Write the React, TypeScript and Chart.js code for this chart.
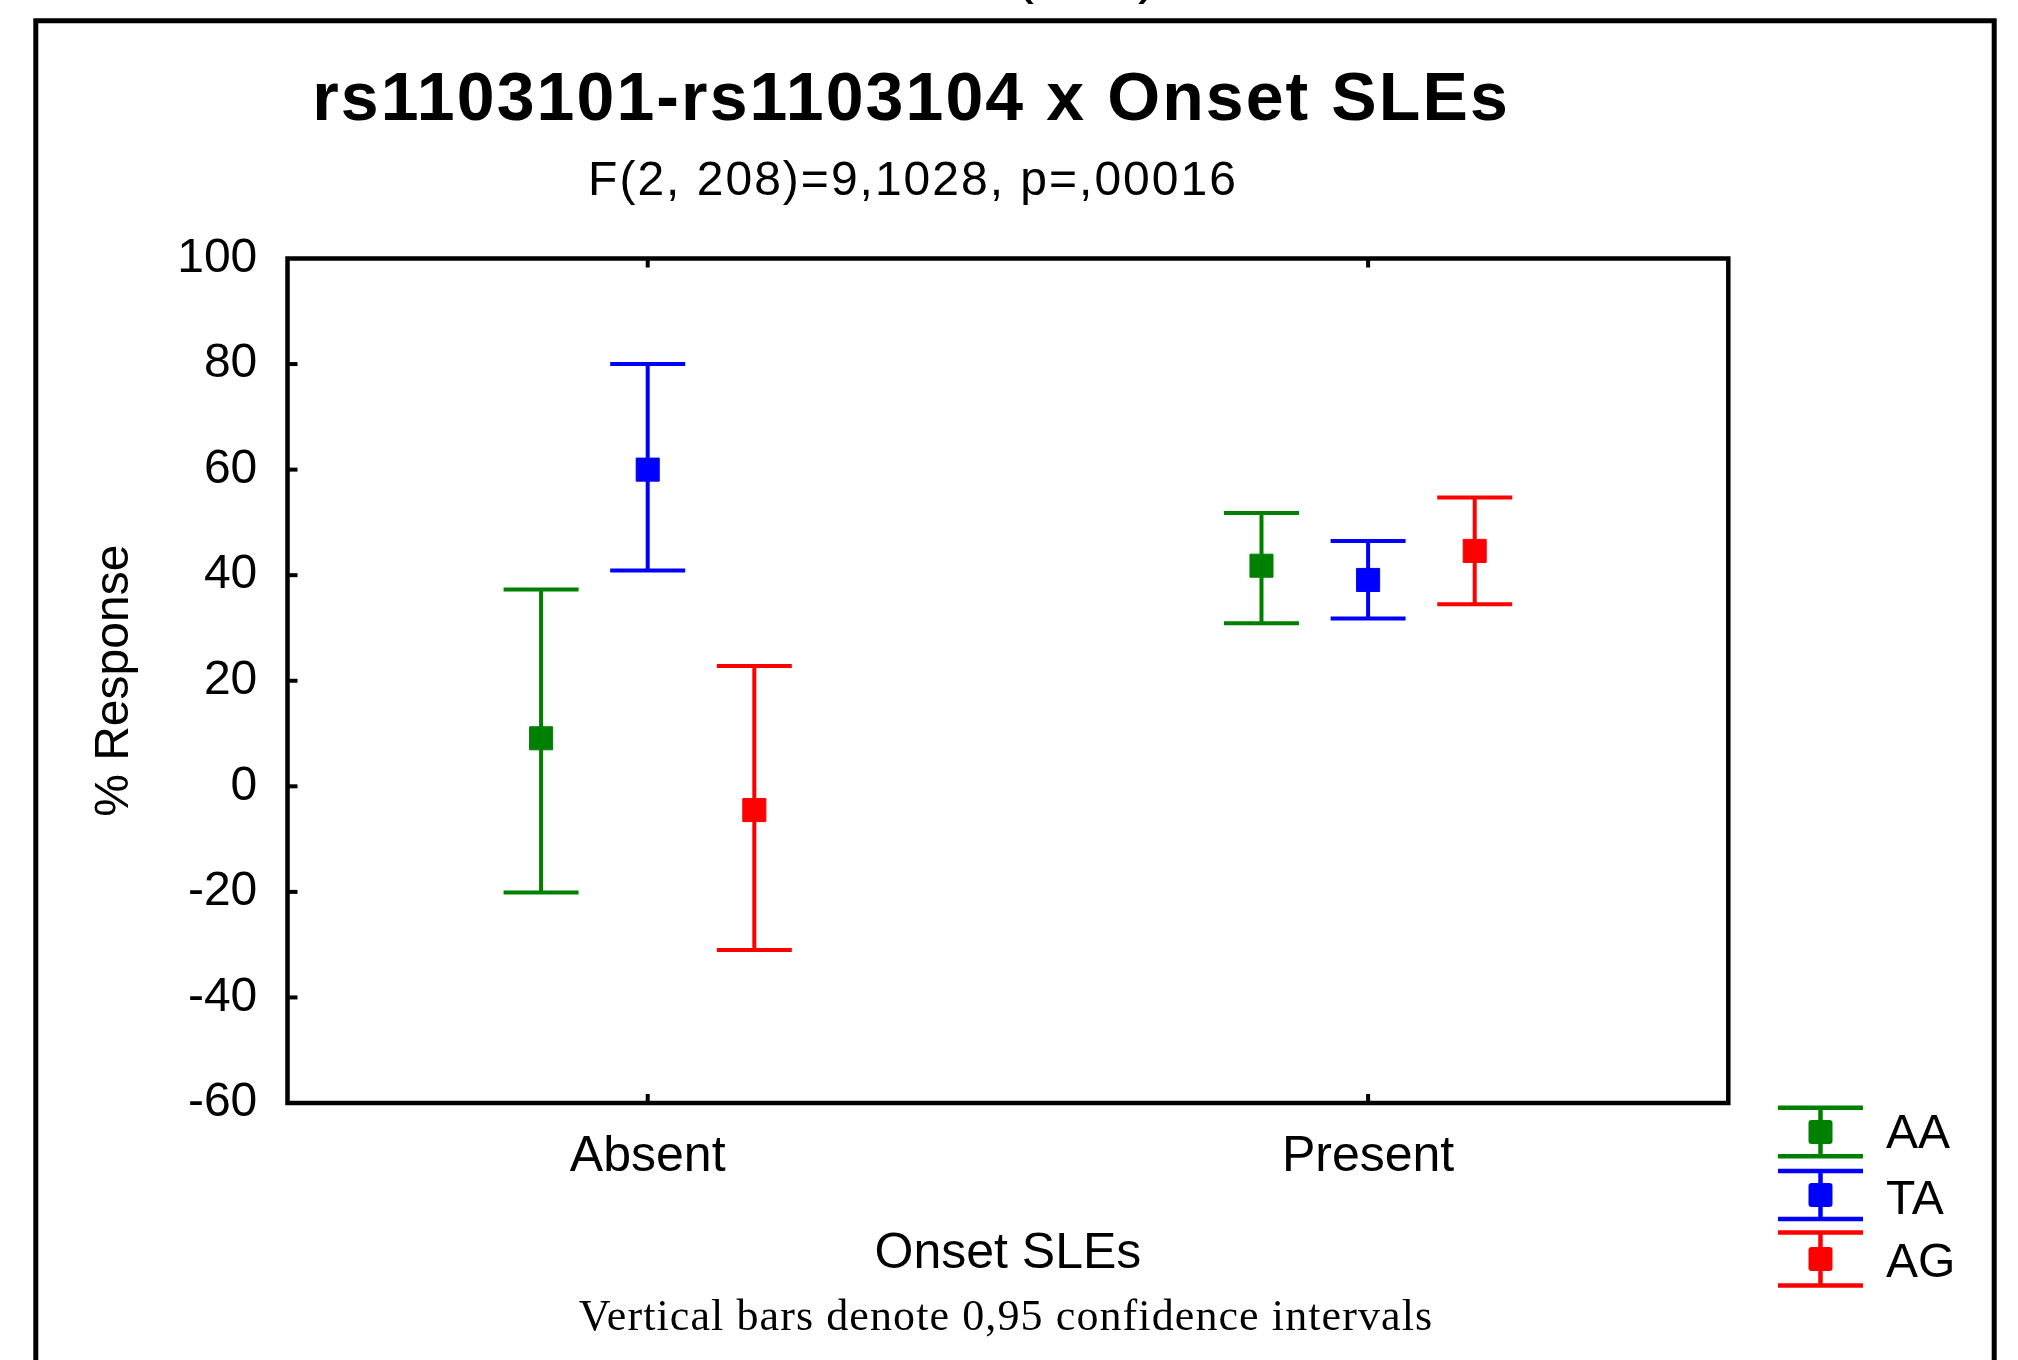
import React, { useEffect, useRef } from 'react';
import { Chart, registerables } from 'chart.js';

Chart.register(...registerables);

// ---- data ----
const CATEGORIES = ['Absent', 'Present'];
const SERIES = ['AA', 'TA', 'AG'];
const SERIES_COLORS = ['#008000', '#0000ff', '#ff0000'];

const AA_MEAN = [9.1, 41.8];
const AA_LOW = [-20.1, 30.9];
const AA_HIGH = [37.3, 51.8];

const TA_MEAN = [60.0, 39.1];
const TA_LOW = [40.9, 31.8];
const TA_HIGH = [80.0, 46.5];

const AG_MEAN = [-4.5, 44.6];
const AG_LOW = [-31.0, 34.5];
const AG_HIGH = [22.8, 54.7];

const Y_MIN = -60;
const Y_MAX = 100;
const Y_STEP = 20;

const TITLE = 'rs1103101-rs1103104 x Onset SLEs';
const SUBTITLE = 'F(2, 208)=9,1028, p=,00016';
const X_TITLE = 'Onset SLEs';
const Y_TITLE = '% Response';
const FOOTNOTE = 'Vertical bars denote 0,95 confidence intervals';

// ---- layout / style constants ----
const SANS = '"Liberation Sans", Arial, Helvetica, sans-serif';
const SERIF = '"Liberation Serif", "Times New Roman", Times, serif';
const DODGE = [-0.148, 0, 0.148];
const W = 2018;
const H = 1360;

const MEANS = [AA_MEAN, TA_MEAN, AG_MEAN];
const LOWS = [AA_LOW, TA_LOW, AG_LOW];
const HIGHS = [AA_HIGH, TA_HIGH, AG_HIGH];

function setSpacing(ctx: any, v: string) {
  try {
    if ('letterSpacing' in ctx) ctx.letterSpacing = v;
  } catch (e) {
    /* ignore */
  }
}

const decorPlugin = {
  id: 'decor',
  beforeDraw(chart: any) {
    const ctx = chart.ctx;
    ctx.save();
    ctx.fillStyle = '#ffffff';
    ctx.fillRect(0, 0, chart.width, chart.height);
    ctx.restore();
  },
  afterDraw(chart: any) {
    const ctx = chart.ctx as CanvasRenderingContext2D;
    const a = chart.chartArea;
    const xs = chart.scales.x;
    const ys = chart.scales.y;
    const line = (x1: number, y1: number, x2: number, y2: number) => {
      ctx.beginPath();
      ctx.moveTo(x1, y1);
      ctx.lineTo(x2, y2);
      ctx.stroke();
    };

    ctx.save();
    ctx.lineCap = 'butt';
    ctx.strokeStyle = '#000';

    // plot frame
    ctx.lineWidth = 4.5;
    ctx.strokeRect(a.left, a.top, a.right - a.left, a.bottom - a.top);

    // inward tick marks
    ctx.lineWidth = 4;
    ys.ticks.forEach((t: any) => {
      if (t.value <= Y_MIN || t.value >= Y_MAX) return;
      const py = ys.getPixelForValue(t.value);
      line(a.left, py, a.left + 10, py);
    });
    xs.ticks.forEach((t: any) => {
      const px = xs.getPixelForValue(t.value);
      line(px, a.bottom, px, a.bottom - 9);
      line(px, a.top, px, a.top + 9);
    });

    // outer frame
    ctx.lineWidth = 5;
    ctx.beginPath();
    ctx.moveTo(35.8, H + 10);
    ctx.lineTo(35.8, 20.8);
    ctx.lineTo(1994.2, 20.8);
    ctx.lineTo(1994.2, H + 10);
    ctx.stroke();

    // clipped text above the frame
    ctx.fillStyle = '#000';
    ctx.textAlign = 'left';
    ctx.textBaseline = 'alphabetic';
    ctx.font = `60px ${SANS}`;
    ctx.fillText('(', 1014, -8);
    ctx.fillText(')', 1138, -8);

    // title
    ctx.textAlign = 'center';
    ctx.font = `bold 68px ${SANS}`;
    setSpacing(ctx, '2.1px');
    ctx.fillText(TITLE, 911, 120);

    // subtitle
    ctx.font = `48px ${SANS}`;
    setSpacing(ctx, '2px');
    ctx.fillText(SUBTITLE, 913, 195);

    // footnote
    ctx.font = `44px ${SERIF}`;
    setSpacing(ctx, '1.1px');
    ctx.fillText(FOOTNOTE, 1006, 1330);
    setSpacing(ctx, '0px');

    // legend
    const lx = 1820.5;
    const capHalf = 42.5;
    const rowCenters = [1132, 1195, 1259];
    const rowHalf = [24.2, 23.9, 26.5];
    const textY = [1135, 1201, 1264];
    SERIES.forEach((name, i) => {
      const c = SERIES_COLORS[i];
      const cy = rowCenters[i];
      const hh = rowHalf[i];
      ctx.strokeStyle = c;
      ctx.fillStyle = c;
      ctx.lineWidth = 4.5;
      line(lx - capHalf, cy - hh, lx + capHalf, cy - hh);
      line(lx - capHalf, cy + hh, lx + capHalf, cy + hh);
      line(lx, cy - hh, lx, cy + hh);
      ctx.beginPath();
      if ((ctx as any).roundRect) (ctx as any).roundRect(lx - 12, cy - 12, 24, 24, 3);
      else ctx.rect(lx - 12, cy - 12, 24, 24);
      ctx.fill();
      ctx.fillStyle = '#000';
      ctx.font = `48px ${SANS}`;
      ctx.textAlign = 'left';
      ctx.textBaseline = 'middle';
      ctx.fillText(name, 1886, textY[i]);
    });

    ctx.restore();
  },
};

export default function App() {
  const ref = useRef<HTMLCanvasElement | null>(null);

  useEffect(() => {
    document.body.style.margin = '0';
    document.body.style.overflow = 'hidden';
    const canvas = ref.current;
    if (!canvas) return;

    const barSets: any[] = [];
    const meanSets: any[] = [];
    SERIES.forEach((name, s) => {
      const color = SERIES_COLORS[s];
      CATEGORIES.forEach((cat, c) => {
        barSets.push({
          type: 'line',
          label: `${name} ${cat} CI`,
          data: [
            { x: c + DODGE[s], y: LOWS[s][c] },
            { x: c + DODGE[s], y: HIGHS[s][c] },
          ],
          showLine: true,
          borderColor: color,
          borderWidth: 4,
          pointStyle: 'line',
          pointRadius: 37.5,
          pointHoverRadius: 37.5,
          pointBorderColor: color,
          pointBorderWidth: 4,
          pointHoverBorderWidth: 4,
          fill: false,
          order: 2,
        });
      });
      meanSets.push({
        type: 'scatter',
        label: name,
        data: CATEGORIES.map((_, c) => ({ x: c + DODGE[s], y: MEANS[s][c] })),
        pointStyle: 'rect',
        pointRadius: 16.3,
        pointHoverRadius: 16.3,
        backgroundColor: color,
        borderColor: color,
        pointBorderWidth: 1,
        borderWidth: 1,
        order: 1,
      });
    });

    const chart = new Chart(canvas, {
      type: 'scatter',
      data: { datasets: [...meanSets, ...barSets] },
      options: {
        responsive: false,
        animation: false,
        devicePixelRatio: 1,
        events: [],
        layout: { padding: { left: 0, top: 258.5, right: W - 1728.3, bottom: 0 } },
        plugins: {
          legend: { display: false },
          tooltip: { enabled: false },
          title: { display: false },
        },
        scales: {
          x: {
            type: 'linear',
            min: -0.5,
            max: 1.5,
            grid: { display: false, drawTicks: false },
            border: { display: false },
            afterBuildTicks: (scale: any) => {
              scale.ticks = CATEGORIES.map((_, i) => ({ value: i }));
            },
            afterFit: (scale: any) => {
              scale.height = H - 1103;
            },
            ticks: {
              autoSkip: false,
              maxRotation: 0,
              minRotation: 0,
              padding: 24.5,
              color: '#000',
              font: { family: SANS, size: 50 },
              callback: (v: any) => CATEGORIES[Math.round(Number(v))] ?? '',
            },
            title: {
              display: true,
              text: X_TITLE,
              color: '#000',
              font: { family: SANS, size: 50 },
              padding: { top: 0, bottom: 76 },
            },
          },
          y: {
            type: 'linear',
            min: Y_MIN,
            max: Y_MAX,
            grid: { display: false, drawTicks: false },
            border: { display: false },
            afterFit: (scale: any) => {
              scale.width = 287.5;
            },
            ticks: {
              stepSize: Y_STEP,
              padding: 30.2,
              color: '#000',
              font: { family: SANS, size: 48 },
            },
            title: {
              display: true,
              text: Y_TITLE,
              color: '#000',
              font: { family: SANS, size: 48 },
              padding: { top: 86, bottom: 0 },
            },
          },
        },
      } as any,
      plugins: [decorPlugin],
    });

    return () => {
      chart.destroy();
    };
  }, []);

  return (
    <div style={{ position: 'absolute', left: 0, top: 0, width: W, height: H }}>
      <canvas ref={ref} width={W} height={H} style={{ display: 'block', width: W, height: H }} />
    </div>
  );
}
